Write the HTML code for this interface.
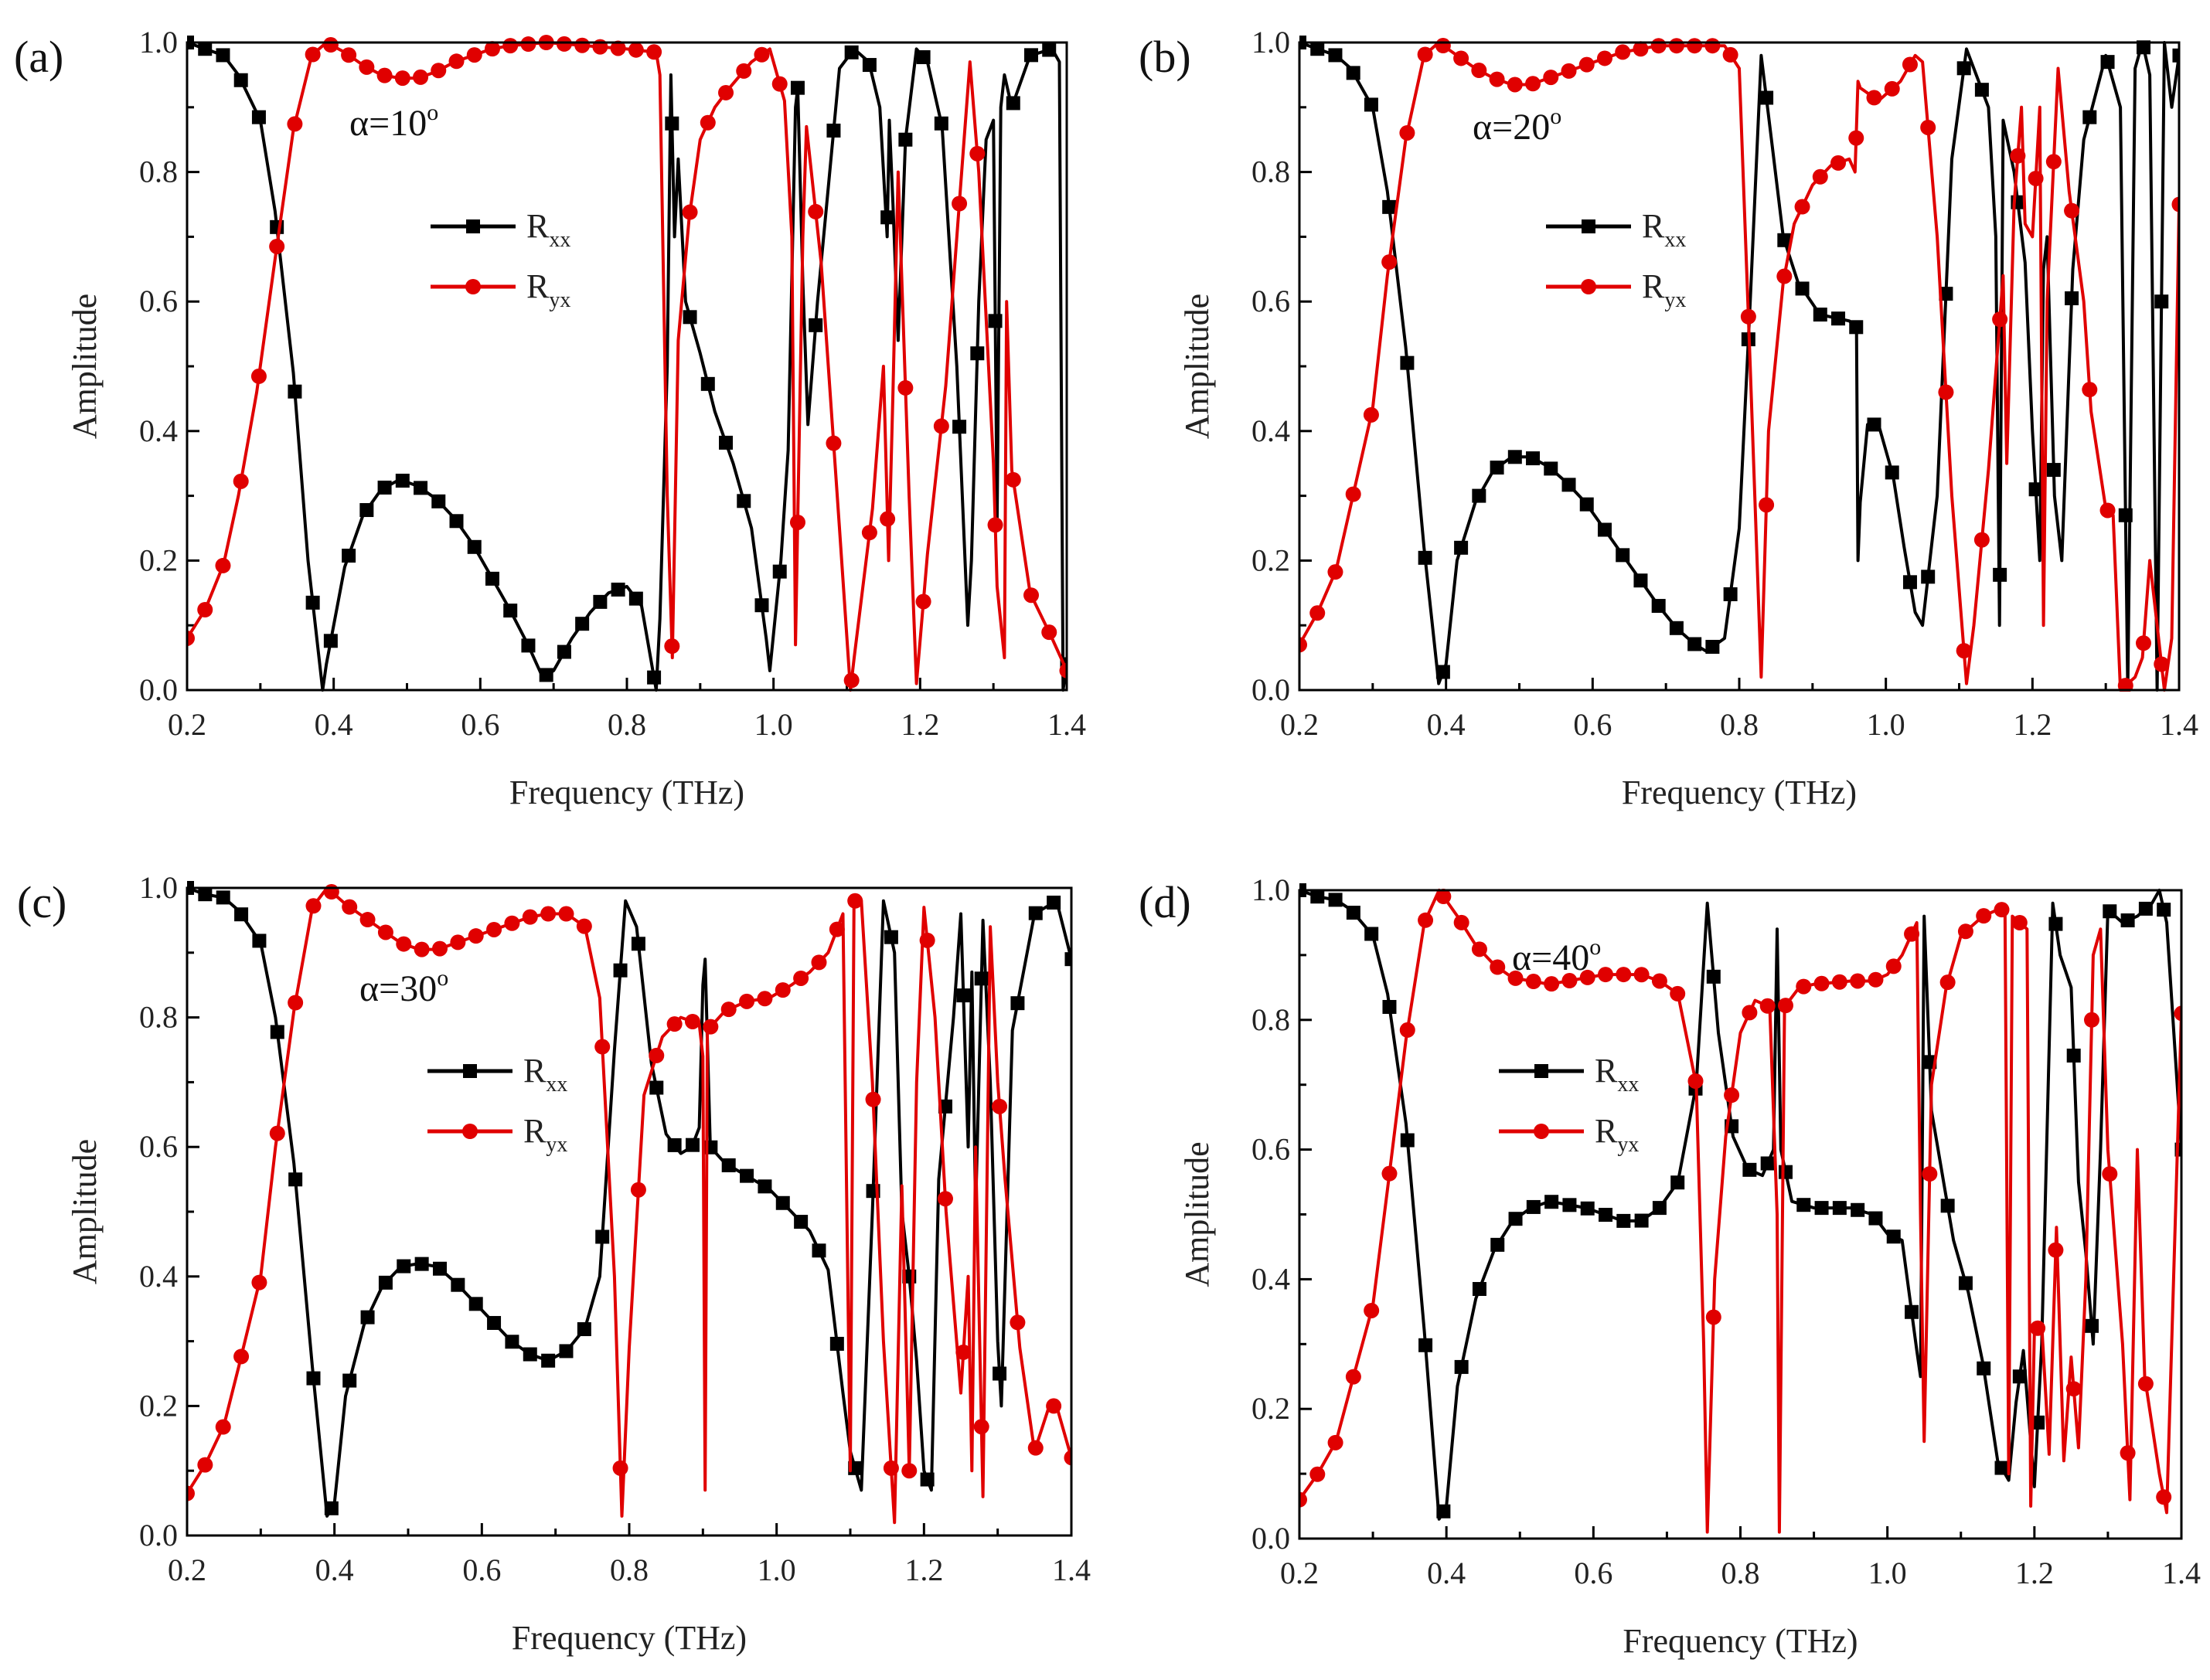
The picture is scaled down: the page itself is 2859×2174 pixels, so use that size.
<!DOCTYPE html>
<html><head><meta charset="utf-8">
<style>
html,body{margin:0;padding:0;background:#fff;}
svg{display:block;font-family:"Liberation Serif","DejaVu Serif",serif;}
</style></head>
<body>
<svg id="fig" width="2859" height="2174" viewBox="0 0 2859 2174" xmlns="http://www.w3.org/2000/svg"></svg>
<script>
// ---- data (frequency in THz, amplitude) ----
const aXxF=[0.2,0.25,0.27,0.3,0.32,0.345,0.365,0.385,0.39,0.415,0.44,0.465,0.49,0.515,0.54,0.565,0.59,0.615,0.64,0.665,0.685,0.7,0.725,0.75,0.775,0.8,0.82,0.84,0.845,0.855,0.86,0.865,0.87,0.88,0.9,0.92,0.945,0.97,0.99,0.995,1.01,1.02,1.03,1.033,1.04,1.047,1.06,1.07,1.09,1.11,1.13,1.145,1.155,1.158,1.163,1.17,1.18,1.195,1.21,1.23,1.25,1.265,1.27,1.28,1.29,1.3,1.305,1.31,1.315,1.325,1.35,1.38,1.39,1.395,1.4];
const aXxV=[1.0,0.98,0.95,0.88,0.74,0.49,0.2,0.0,0.04,0.19,0.27,0.31,0.325,0.315,0.295,0.265,0.225,0.175,0.125,0.07,0.02,0.03,0.08,0.12,0.15,0.16,0.13,0.0,0.11,0.5,0.95,0.7,0.82,0.6,0.52,0.43,0.35,0.25,0.08,0.03,0.2,0.37,0.9,0.93,0.63,0.41,0.6,0.72,0.96,0.99,0.97,0.9,0.7,0.88,0.75,0.54,0.85,0.99,0.97,0.87,0.5,0.1,0.2,0.6,0.85,0.88,0.26,0.9,0.95,0.9,0.98,0.99,0.97,0.0,0.04];
const aYxF=[0.2,0.225,0.25,0.27,0.295,0.32,0.345,0.37,0.39,0.415,0.44,0.465,0.49,0.515,0.54,0.565,0.59,0.615,0.64,0.69,0.8,0.84,0.845,0.855,0.862,0.87,0.885,0.9,0.92,0.94,0.97,0.995,1.015,1.025,1.03,1.04,1.045,1.065,1.09,1.105,1.11,1.135,1.15,1.157,1.163,1.17,1.185,1.195,1.21,1.235,1.26,1.268,1.28,1.3,1.305,1.315,1.318,1.325,1.35,1.38,1.4];
const aYxV=[0.08,0.125,0.195,0.3,0.46,0.665,0.865,0.98,1.0,0.985,0.965,0.95,0.945,0.945,0.955,0.97,0.98,0.99,0.995,1.0,0.99,0.985,0.95,0.3,0.05,0.54,0.73,0.85,0.9,0.93,0.97,0.99,0.91,0.7,0.07,0.7,0.87,0.66,0.25,0.0,0.05,0.28,0.5,0.2,0.46,0.8,0.3,0.01,0.21,0.47,0.85,0.97,0.8,0.35,0.16,0.05,0.6,0.34,0.15,0.08,0.03];

const bXxF=[0.2,0.225,0.25,0.27,0.3,0.32,0.345,0.37,0.39,0.4,0.415,0.44,0.465,0.49,0.515,0.54,0.565,0.59,0.615,0.64,0.665,0.69,0.715,0.74,0.755,0.78,0.8,0.815,0.83,0.845,0.86,0.88,0.91,0.95,0.96,0.962,0.965,0.975,0.99,1.01,1.025,1.04,1.05,1.07,1.09,1.11,1.14,1.15,1.155,1.16,1.175,1.19,1.2,1.21,1.215,1.22,1.23,1.24,1.255,1.27,1.3,1.32,1.33,1.34,1.35,1.36,1.37,1.38,1.39,1.4];
const bXxV=[1.0,0.99,0.98,0.96,0.9,0.77,0.53,0.22,0.01,0.04,0.2,0.29,0.34,0.36,0.36,0.345,0.32,0.29,0.25,0.21,0.17,0.13,0.095,0.07,0.06,0.08,0.25,0.6,0.98,0.84,0.7,0.63,0.58,0.57,0.56,0.2,0.29,0.41,0.41,0.33,0.22,0.12,0.1,0.3,0.82,0.99,0.9,0.7,0.1,0.88,0.8,0.66,0.4,0.2,0.65,0.7,0.3,0.2,0.65,0.85,0.98,0.9,0.0,0.96,1.0,0.95,0.0,1.0,0.9,0.98];
const bYxF=[0.2,0.225,0.25,0.27,0.3,0.32,0.345,0.37,0.39,0.415,0.44,0.465,0.49,0.515,0.54,0.565,0.59,0.615,0.64,0.69,0.78,0.8,0.815,0.83,0.84,0.86,0.875,0.9,0.925,0.95,0.958,0.962,0.965,0.99,1.02,1.04,1.05,1.07,1.09,1.11,1.12,1.14,1.16,1.165,1.175,1.185,1.19,1.2,1.205,1.21,1.215,1.22,1.235,1.25,1.27,1.28,1.3,1.31,1.32,1.33,1.34,1.35,1.36,1.37,1.38,1.39,1.4];
const bYxV=[0.07,0.12,0.185,0.285,0.435,0.64,0.85,0.98,1.0,0.98,0.96,0.945,0.935,0.935,0.945,0.955,0.965,0.975,0.985,0.995,0.995,0.96,0.5,0.02,0.4,0.63,0.72,0.78,0.81,0.82,0.8,0.94,0.93,0.91,0.94,0.98,0.97,0.7,0.3,0.01,0.1,0.34,0.64,0.35,0.75,0.9,0.72,0.7,0.8,0.9,0.1,0.6,0.96,0.77,0.6,0.43,0.28,0.27,0.0,0.01,0.02,0.05,0.2,0.1,0.0,0.08,0.75];

const cXxF=[0.2,0.225,0.25,0.27,0.3,0.32,0.345,0.37,0.39,0.4,0.415,0.44,0.465,0.49,0.515,0.54,0.565,0.59,0.615,0.64,0.665,0.69,0.715,0.74,0.76,0.78,0.795,0.81,0.83,0.85,0.87,0.885,0.895,0.9,0.903,0.91,0.93,0.96,0.99,1.02,1.045,1.07,1.09,1.1,1.115,1.13,1.145,1.16,1.17,1.18,1.19,1.2,1.21,1.22,1.24,1.25,1.26,1.265,1.27,1.28,1.29,1.3,1.305,1.32,1.35,1.38,1.4];
const cXxV=[1.0,0.99,0.985,0.965,0.915,0.8,0.575,0.26,0.03,0.05,0.215,0.325,0.385,0.415,0.42,0.415,0.39,0.36,0.33,0.3,0.28,0.27,0.285,0.32,0.4,0.75,0.98,0.94,0.73,0.62,0.59,0.6,0.63,0.85,0.89,0.6,0.575,0.555,0.535,0.5,0.47,0.41,0.22,0.13,0.07,0.5,0.98,0.9,0.5,0.4,0.27,0.1,0.07,0.55,0.8,0.96,0.6,0.87,0.5,0.95,0.7,0.3,0.2,0.78,0.96,0.98,0.89];
const cYxF=[0.2,0.225,0.25,0.27,0.3,0.32,0.345,0.37,0.39,0.415,0.44,0.465,0.49,0.515,0.54,0.565,0.59,0.615,0.64,0.665,0.69,0.715,0.74,0.76,0.78,0.79,0.8,0.82,0.845,0.87,0.895,0.9,0.903,0.906,0.93,0.96,0.99,1.02,1.045,1.07,1.09,1.1,1.105,1.115,1.13,1.145,1.16,1.17,1.18,1.19,1.2,1.215,1.23,1.25,1.26,1.265,1.27,1.28,1.29,1.3,1.31,1.33,1.35,1.37,1.38,1.4];
const cYxV=[0.065,0.11,0.17,0.26,0.4,0.6,0.81,0.97,1.0,0.975,0.955,0.935,0.915,0.905,0.905,0.915,0.925,0.935,0.945,0.955,0.96,0.96,0.94,0.83,0.4,0.03,0.29,0.68,0.77,0.8,0.79,0.74,0.07,0.78,0.81,0.825,0.83,0.85,0.87,0.9,0.96,0.1,0.98,0.98,0.7,0.3,0.02,0.54,0.1,0.7,0.97,0.8,0.5,0.22,0.4,0.1,0.6,0.06,0.94,0.7,0.55,0.29,0.13,0.2,0.2,0.12];

const dXxF=[0.2,0.225,0.25,0.27,0.3,0.32,0.345,0.37,0.39,0.4,0.415,0.44,0.465,0.49,0.515,0.54,0.565,0.59,0.615,0.64,0.665,0.69,0.715,0.74,0.755,0.77,0.79,0.81,0.83,0.845,0.85,0.855,0.87,0.9,0.95,0.98,1.0,1.02,1.04,1.045,1.05,1.06,1.09,1.11,1.13,1.15,1.165,1.175,1.185,1.2,1.21,1.225,1.235,1.25,1.26,1.27,1.28,1.29,1.3,1.32,1.34,1.36,1.37,1.38,1.4];
const dXxV=[1.0,0.99,0.985,0.97,0.93,0.84,0.64,0.32,0.03,0.05,0.235,0.37,0.445,0.49,0.51,0.52,0.515,0.51,0.5,0.49,0.49,0.51,0.55,0.7,0.98,0.78,0.62,0.57,0.56,0.6,0.94,0.6,0.52,0.51,0.51,0.5,0.47,0.46,0.29,0.25,0.96,0.66,0.46,0.38,0.27,0.12,0.09,0.21,0.29,0.08,0.3,0.98,0.9,0.85,0.55,0.44,0.3,0.6,0.97,0.95,0.96,0.98,1.0,0.95,0.6];
const dYxF=[0.2,0.225,0.25,0.27,0.3,0.32,0.345,0.37,0.39,0.415,0.44,0.465,0.49,0.515,0.54,0.565,0.59,0.615,0.64,0.665,0.69,0.715,0.74,0.75,0.755,0.765,0.78,0.8,0.82,0.84,0.85,0.853,0.86,0.88,0.9,0.95,0.98,1.0,1.02,1.04,1.045,1.05,1.06,1.08,1.1,1.13,1.15,1.16,1.165,1.17,1.18,1.19,1.195,1.2,1.21,1.22,1.23,1.24,1.25,1.26,1.27,1.28,1.29,1.3,1.32,1.33,1.34,1.35,1.37,1.38,1.4];
const dYxV=[0.06,0.1,0.15,0.235,0.36,0.54,0.77,0.95,1.0,0.96,0.915,0.885,0.865,0.86,0.855,0.86,0.865,0.87,0.87,0.87,0.86,0.84,0.7,0.3,0.01,0.4,0.62,0.78,0.83,0.82,0.5,0.01,0.82,0.85,0.855,0.86,0.86,0.87,0.9,0.95,0.5,0.15,0.7,0.85,0.93,0.96,0.97,0.97,0.1,0.96,0.95,0.94,0.05,0.32,0.33,0.13,0.48,0.12,0.28,0.14,0.4,0.9,0.94,0.6,0.3,0.06,0.6,0.25,0.1,0.04,0.81];

const xTicks=[0.2,0.4,0.6,0.8,1.0,1.2,1.4];
const xTickLabels=["0.2","0.4","0.6","0.8","1.0","1.2","1.4"];
const yTicks=[0,0.2,0.4,0.6,0.8,1.0];
const yTickLabels=["0.0","0.2","0.4","0.6","0.8","1.0"];
const panelLabels=["(a)","(b)","(c)","(d)"];
const angleLabels=["10","20","30","40"];

const NS="http://www.w3.org/2000/svg";
const svg=document.getElementById('fig');
function mk(tag,attrs,parent){const e=document.createElementNS(NS,tag);for(const k in attrs)e.setAttribute(k,attrs[k]);(parent||svg).appendChild(e);return e;}
function interp(F,V,f){if(f<=F[0])return V[0];for(let i=1;i<F.length;i++){if(f<=F[i]){const t=(f-F[i-1])/(F[i]-F[i-1]);return V[i-1]+t*(V[i]-V[i-1]);}}return V[V.length-1];}

const panels=[
 {x0:242,x1:1380,y0:55,y1:893,xx:[aXxF,aXxV],yx:[aYxF,aYxV],lab:[18,93],ang:[452,175],leg:[557,293]},
 {x0:1681,x1:2819,y0:55,y1:893,xx:[bXxF,bXxV],yx:[bYxF,bYxV],lab:[1473,93],ang:[1905,180],leg:[2000,293]},
 {x0:242,x1:1386,y0:1149,y1:1987,xx:[cXxF,cXxV],yx:[cYxF,cYxV],lab:[22,1187],ang:[465,1295],leg:[553,1386]},
 {x0:1681,x1:2822,y0:1152,y1:1991,xx:[dXxF,dXxV],yx:[dYxF,dYxV],lab:[1473,1187],ang:[1956,1255],leg:[1939,1386]}
];

panels.forEach((p,pi)=>{
 const g=mk('g',{});
 
 
 const sx=f=>p.x0+(f-0.2)/1.2*(p.x1-p.x0);
 const sy=v=>p.y1-v*(p.y1-p.y0);
 const cid='clip'+pi;
 const cp=mk('clipPath',{id:cid},g);mk('rect',{x:p.x0,y:p.y0-12,width:p.x1-p.x0,height:p.y1-p.y0+14},cp);
 // minor ticks & major ticks (inward)
 for(let i=0;i<=12;i++){const f=0.2+i*0.1;const major=i%2===0;const L=major?16:9;
  const t=mk('line',{x1:sx(f),x2:sx(f),y1:p.y1,y2:p.y1-L,stroke:'#000','stroke-width':3},g);
  }
 for(let i=0;i<=10;i++){const v=i*0.1;const major=i%2===0;const L=major?16:9;
  const t=mk('line',{x1:p.x0,x2:p.x0+L,y1:sy(v),y2:sy(v),stroke:'#000','stroke-width':3},g);
  }
 xTicks.forEach((f,i)=>{const t=mk('text',{x:sx(f),y:p.y1+58,'font-size':40,'text-anchor':'middle',fill:'#222'},g);t.textContent=xTickLabels[i];
  });
 yTicks.forEach((v,i)=>{const t=mk('text',{x:p.x0-12,y:sy(v)+13,'font-size':40,'text-anchor':'end',fill:'#222'},g);t.textContent=yTickLabels[i];
  });
 const xt=mk('text',{x:(p.x0+p.x1)/2,y:p.y1+147,'font-size':44,'text-anchor':'middle',fill:'#222'},g);xt.textContent='Frequency (THz)';
 
 const yc=(p.y0+p.y1)/2;
 const yt=mk('text',{x:p.x0-118,y:yc,'font-size':44,'text-anchor':'middle',fill:'#222',transform:`rotate(-90 ${p.x0-118} ${yc})`},g);yt.textContent='Amplitude';
 
 const pl=mk('text',{x:p.lab[0],y:p.lab[1],'font-size':58,fill:'#111'},g);pl.textContent=panelLabels[pi];
 
 const al=mk('text',{x:p.ang[0],y:p.ang[1],'font-size':48,fill:'#111'},g);al.textContent='α='+angleLabels[pi];
 const sup=mk('tspan',{'font-size':30,dy:-20},al);sup.textContent='o';
 
 // series
 const series=[{d:p.xx,c:'#000',m:'sq',n:'rxx'},{d:p.yx,c:'#e00000',m:'ci',n:'ryx'}];
 const sg=mk('g',{'clip-path':`url(#${cid})`},g);
 series.forEach(s=>{
  const F=s.d[0],V=s.d[1];
  const pts=F.map((f,i)=>sx(f).toFixed(1)+','+sy(V[i]).toFixed(1)).join(' ');
  const pl2=mk('polyline',{points:pts,fill:'none',stroke:s.c,'stroke-width':4,'stroke-linejoin':'round'},sg);
  
  for(let k=0;k<=49;k++){const f=0.2+k*0.0245;if(f>1.401)break;const v=interp(F,V,f);const X=sx(f),Y=sy(v);
   let m;
   if(s.m==='sq'){m=mk('rect',{x:X-9,y:Y-9,width:18,height:18,fill:s.c},sg);}
   else{m=mk('circle',{cx:X,cy:Y,r:10,fill:s.c},sg);}
   }
 });
 // frame
 const fr=mk('rect',{x:p.x0,y:p.y0,width:p.x1-p.x0,height:p.y1-p.y0,fill:'none',stroke:'#000','stroke-width':3},g);
 
 // legend
 const lg=mk('g',{},g);
 [['#000','sq','xx',0],['#e00000','ci','yx',78]].forEach(e=>{
  const ly=p.leg[1]+e[3],lx=p.leg[0];
  const ent=mk('g',{},lg);
  mk('line',{x1:lx,x2:lx+110,y1:ly,y2:ly,stroke:e[0],'stroke-width':5},ent);
  if(e[1]==='sq')mk('rect',{x:lx+46,y:ly-9,width:18,height:18,fill:e[0]},ent);else mk('circle',{cx:lx+55,cy:ly,r:10,fill:e[0]},ent);
  const t=mk('text',{x:lx+124,y:ly+14,'font-size':44,fill:'#222'},ent);t.textContent='R';
  const ts=mk('tspan',{'font-size':28,dy:12},t);ts.textContent=e[2];
 });
});
</script>
</body></html>
